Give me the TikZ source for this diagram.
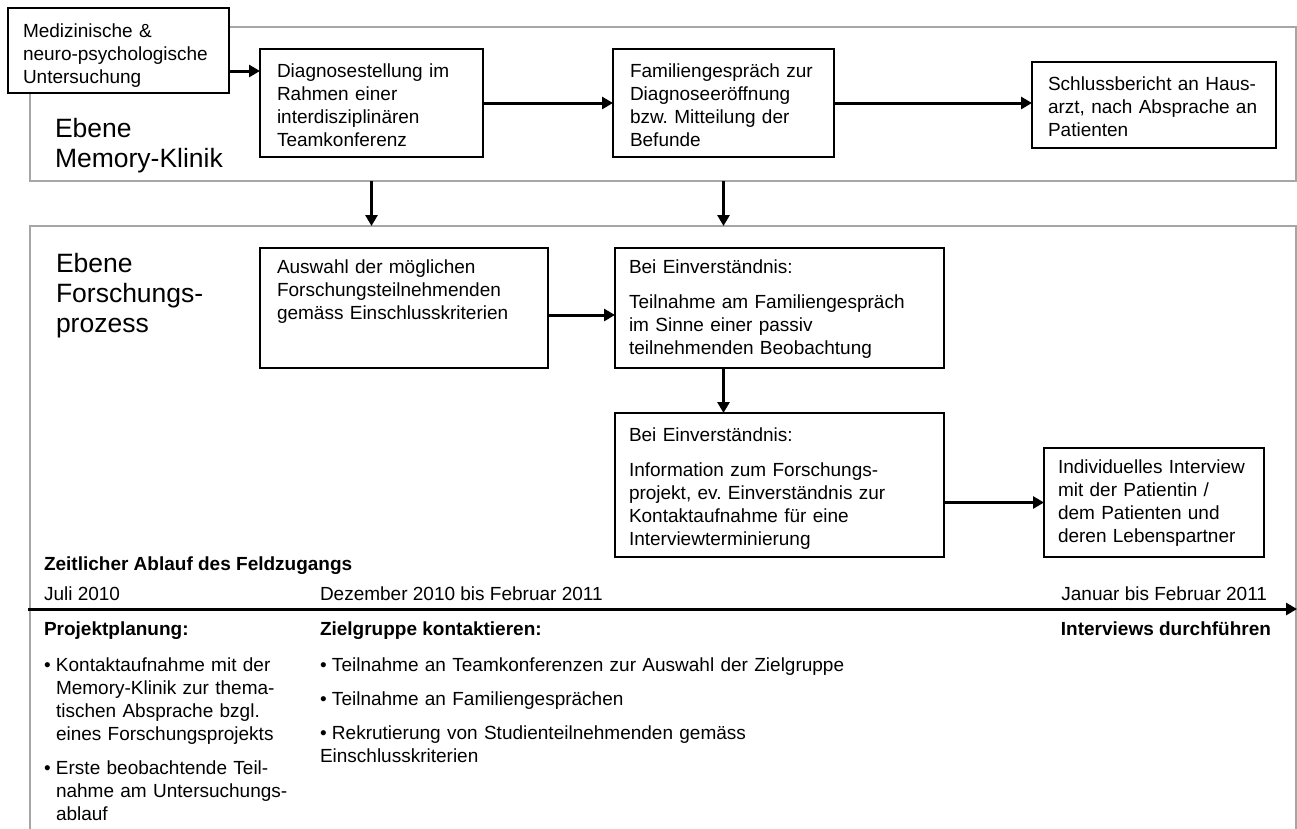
\documentclass[tikz,border=0pt]{standalone}
\usepackage{fontspec}
\setmainfont{Liberation Sans}
\usetikzlibrary{arrows.meta,positioning}
\definecolor{framegray}{RGB}{166,166,166}
\newcommand{\bul}{\makebox[12pt][l]{\textbullet}}
\newcommand{\bulind}{\hspace*{12pt}}
\frenchspacing

\begin{document}
\begin{tikzpicture}[x=1pt,y=-1pt,>={Triangle[length=11pt,width=12pt]}]
\tikzstyle{txt}=[inner sep=0pt,outer sep=0pt,align=left,font=\fontsize{19}{23}\selectfont]
\tikzstyle{box}=[txt,draw=black,line width=2pt,fill=white,anchor=north west,inner ysep=0pt]
\tikzstyle{frame}=[draw=framegray,line width=2pt,anchor=north west,inner sep=0pt,outer sep=0pt]
\tikzstyle{ebene}=[txt,font=\fontsize{26.5}{30}\selectfont,text width=220pt,anchor=base west]
\tikzstyle{tl}=[txt,anchor=base west]
\tikzstyle{tlb}=[tl,font=\fontsize{19}{23}\selectfont\bfseries]
\tikzstyle{arr}=[->,line width=3pt]
\useasboundingbox (0,0) rectangle (1297,828);

% Ebenen
\node[frame,minimum width=1266pt,minimum height=154pt] (klinik)    at (30,27)  {};
\node[frame,minimum width=1266pt,minimum height=640pt] (forschung) at (30,226) {};
\node[ebene] (ebeneK) at (55,137) {Ebene\\Memory-Klinik};
\node[ebene] (ebeneF) at (56,272) {Ebene\\Forschungs-\\prozess};

% Memory-Klinik
\node[box,inner xsep=15pt,text width=191pt,text height=29pt,text depth=56pt] (med) at (8,8)
  {Medizinische \&\\neuro-psychologische\\Untersuchung};
\node[box,inner xsep=17pt,text width=189pt,text height=28pt,text depth=80pt] (diag) at (260,49)
  {Diagnosestellung im\\Rahmen einer\\interdisziplinären\\Teamkonferenz};
\node[box,inner xsep=17pt,text width=187pt,text height=28pt,text depth=80pt] (fam) at (613,49)
  {Familiengespräch zur\\Diagnoseeröffnung\\bzw. Mitteilung der\\Befunde};
\node[box,inner xsep=16pt,text width=212pt,text height=28pt,text depth=58pt] (schluss) at (1032,62)
  {Schlussbericht an Haus-\\arzt, nach Absprache an\\Patienten};

% Forschungsprozess
\node[box,inner xsep=17pt,text width=254pt,text height=25pt,text depth=95pt] (auswahl) at (260,248)
  {Auswahl der möglichen\\Forschungsteilnehmenden\\gemäss Einschlusskriterien};
\node[box,inner xsep=14pt,text width=301pt,text height=25pt,text depth=95pt] (einv1) at (615,248)
  {Bei Einverständnis:\\[12pt]Teilnahme am Familiengespräch\\im Sinne einer passiv\\teilnehmenden Beobachtung};
\node[box,inner xsep=14pt,text width=301pt,text height=28pt,text depth=116pt] (einv2) at (615,413)
  {Bei Einverständnis:\\[12pt]Information zum Forschungs-\\projekt, ev. Einverständnis zur\\Kontaktaufnahme für eine\\Interviewterminierung};
\node[box,inner xsep=14pt,text width=192pt,text height=25pt,text depth=84pt] (indiv) at (1044,448)
  {Individuelles Interview\\mit der Patientin /\\dem Patienten und\\deren Lebenspartner};

\draw[arr] ([yshift=-20.5pt]med.east) coordinate (medout) -- (medout -| diag.west);
\draw[arr] ([yshift=-7pt]auswahl.east) coordinate (auswout) -- (auswout -| einv1.west);
\path[arr]
(diag.east)                edge (diag.east -| fam.west)
(fam.east)                 edge (fam.east -| schluss.west)
(diag.south |- klinik.south) edge (diag.south |- forschung.north)
(fam.south |- klinik.south)  edge (fam.south |- forschung.north)
(fam.south |- einv1.south)   edge (fam.south |- einv2.north)
(einv2.east |- indiv.west)   edge (indiv.west);

% Zeitlicher Ablauf
\coordinate (tstart) at (28,609);
\coordinate (tend)   at (1297,609);
\draw[arr] (tstart) -- (tend);
\node[tlb] (zeit) at (44,570) {Zeitlicher Ablauf des Feldzugangs};
\node[tl] (juli) at (44,600) {Juli 2010};
\node[tl] (dez)  at (320,600) {Dezember 2010 bis Februar 2011};
\node[tl,anchor=base east] (jan) at (1267,600) {Januar bis Februar 2011};
\node[tlb] (plan) at (44,635) {Projektplanung:};
\node[tlb] (ziel) at (320,635) {Zielgruppe kontaktieren:};
\node[tlb,anchor=base east] (intv) at (1271,635) {Interviews durchführen};
\node[tl,text width=250pt] (planlist) at (44,671)
  {\bul Kontaktaufnahme mit der\\\bulind Memory-Klinik zur thema-\\\bulind tischen Absprache bzgl.\\\bulind eines Forschungsprojekts\\[11pt]\bul Erste beobachtende Teil-\\\bulind nahme am Untersuchungs-\\\bulind ablauf};
\node[tl,text width=560pt] (ziellist) at (320,671)
  {\bul Teilnahme an Teamkonferenzen zur Auswahl der Zielgruppe\\[11pt]\bul Teilnahme an Familiengesprächen\\[11pt]\bul Rekrutierung von Studienteilnehmenden gemäss\\Einschlusskriterien};
\end{tikzpicture}
\end{document}
